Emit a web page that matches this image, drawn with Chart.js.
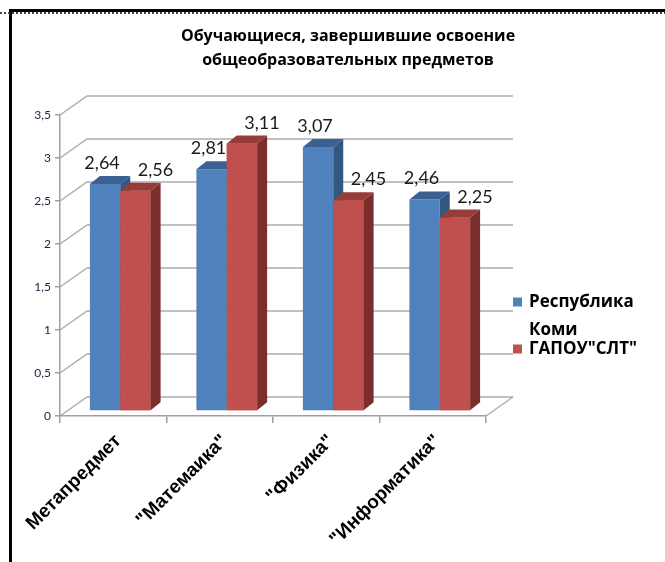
<!DOCTYPE html>
<html>
<head>
<meta charset="utf-8">
<script src="https://cdn.jsdelivr.net/npm/chart.js@4.4.1/dist/chart.umd.min.js"></script>
<style>
    body { margin: 0; background: #fff; }
    canvas { display: block; }
</style>
</head>
<body>
<canvas id="chart" width="665" height="562"></canvas>
<script>
const titleLines = ['Обучающиеся, завершившие освоение', 'общеобразовательных предметов'];
const categories = ['Метапредмет', '"Матемаика"', '"Физика"', '"Информатика"'];
const seriesNames = [['Республика', 'Коми'], ['ГАПОУ"СЛТ"']];
const komiValues = [2.64, 2.81, 3.07, 2.46];
const sltValues = [2.56, 3.11, 2.45, 2.25];
const yTicks = [0, 0.5, 1, 1.5, 2, 2.5, 3, 3.5];

const frontColors = ['#4F81BD', '#C0504D'];
const topColors = ['#3B6194', '#973C39'];
const sideColors = ['#345782', '#7B2F2D'];

// 3d look: depth of the back wall and of the bars
const wallDx = 27, wallDy = 19;
const barDx = 10, barDy = 8;
const shiftX = 7, shiftY = -5;
const labelShift = [-3, 20];

function fmt(v) {
    return String(v).replace('.', ',');
}

const depthPlugin = {
    id: 'depth',
    beforeDraw(chart) {
        const ctx = chart.ctx;
        const area = chart.chartArea;
        const y = chart.scales.y;
        ctx.save();
        ctx.fillStyle = '#fff';
        ctx.fillRect(0, 0, chart.width, chart.height);

        // frame
        ctx.strokeStyle = '#000';
        ctx.lineWidth = 3;
        ctx.beginPath();
        ctx.moveTo(10.5, chart.height);
        ctx.lineTo(10.5, 10.5);
        ctx.lineTo(chart.width, 10.5);
        ctx.stroke();
        ctx.strokeStyle = '#444';
        ctx.lineWidth = 2;
        ctx.setLineDash([2, 2]);
        ctx.beginPath();
        ctx.moveTo(0, 13);
        ctx.lineTo(chart.width, 13);
        ctx.stroke();
        ctx.setLineDash([]);

        // title
        ctx.fillStyle = '#000';
        ctx.font = 'bold 16px "Open Sans"';
        ctx.textAlign = 'center';
        ctx.textBaseline = 'middle';
        ctx.fillText(titleLines[0], 348, 36);
        ctx.fillText(titleLines[1], 348, 60);

        // back wall grid lines
        ctx.strokeStyle = '#ADADAD';
        ctx.lineWidth = 1.5;
        yTicks.forEach(v => {
            const py = y.getPixelForValue(v);
            ctx.beginPath();
            ctx.moveTo(area.left, py);
            ctx.lineTo(area.left + wallDx, py - wallDy);
            ctx.lineTo(area.right + wallDx, py - wallDy);
            ctx.stroke();
        });
        // floor
        const py0 = y.getPixelForValue(0);
        ctx.beginPath();
        ctx.moveTo(area.right, py0);
        ctx.lineTo(area.right + wallDx, py0 - wallDy);
        ctx.stroke();
        ctx.restore();
    },
    beforeDatasetsDraw(chart) {
        chart.ctx.save();
        chart.ctx.translate(shiftX, shiftY);
    },
    afterDatasetsDraw(chart) {
        const ctx = chart.ctx;
        const metas = [chart.getDatasetMeta(0), chart.getDatasetMeta(1)];
        categories.forEach((c, i) => {
            metas.forEach((meta, d) => {
                const el = meta.data[i];
                if (d > 0) el.draw(ctx);
                const p = el.getProps(['x', 'y', 'base', 'width'], true);
                const l = p.x - p.width / 2, r = p.x + p.width / 2;
                ctx.fillStyle = topColors[d];
                ctx.beginPath();
                ctx.moveTo(l, p.y);
                ctx.lineTo(l + barDx, p.y - barDy);
                ctx.lineTo(r + barDx, p.y - barDy);
                ctx.lineTo(r, p.y);
                ctx.closePath();
                ctx.fill();
                ctx.fillStyle = sideColors[d];
                ctx.beginPath();
                ctx.moveTo(r, p.y);
                ctx.lineTo(r + barDx, p.y - barDy);
                ctx.lineTo(r + barDx, p.base - barDy);
                ctx.lineTo(r, p.base);
                ctx.closePath();
                ctx.fill();
            });
        });

        // value labels
        ctx.fillStyle = '#1A1A1A';
        ctx.font = '18px Lato';
        ctx.textAlign = 'center';
        ctx.textBaseline = 'alphabetic';
        metas.forEach((meta, d) => {
            const values = d === 0 ? komiValues : sltValues;
            meta.data.forEach((el, i) => {
                const p = el.getProps(['x', 'y'], true);
                ctx.fillText(values[i].toFixed(2).replace('.', ','), p.x + labelShift[d], p.y - 15);
            });
        });
        ctx.restore();
    },
    afterDraw(chart) {
        const ctx = chart.ctx;
        ctx.save();
        ctx.font = 'bold 17px "Open Sans"';
        ctx.textAlign = 'left';
        ctx.textBaseline = 'middle';
        let ly = 302;
        seriesNames.forEach((name, d) => {
            ctx.fillStyle = frontColors[d];
            ctx.fillRect(513, ly - 4.5, 9, 9);
            ctx.fillStyle = '#000';
            name.forEach((line, k) => {
                ctx.fillText(line, 529, ly + k * 28);
            });
            ly += name.length === 2 ? 47 : 26;
        });
        ctx.restore();
    }
};

new Chart(document.getElementById('chart'), {
    type: 'bar',
    data: {
        labels: categories,
        datasets: [
            { label: seriesNames[0].join(' '), data: komiValues, backgroundColor: frontColors[0], borderWidth: 0, clip: false },
            { label: seriesNames[1].join(' '), data: sltValues, backgroundColor: frontColors[1], borderWidth: 0, clip: false }
        ]
    },
    options: {
        responsive: false,
        animation: false,
        events: [],
        layout: { padding: { left: 0, top: 115, right: 179, bottom: 0 } },
        datasets: { bar: { categoryPercentage: 0.57, barPercentage: 1.0 } },
        plugins: {
            legend: { display: false },
            title: { display: false },
            tooltip: { enabled: false }
        },
        scales: {
            x: {
                afterFit: scale => { scale.height = 146; },
                grid: { drawOnChartArea: false, drawTicks: true, tickLength: 7, color: '#A0A0A0', lineWidth: 1.5 },
                border: { color: '#A0A0A0', width: 1.5 },
                ticks: {
                    color: '#000',
                    font: { family: '"Liberation Sans"', size: 19, weight: 'bold' },
                    minRotation: 45,
                    maxRotation: 45,
                    labelOffset: 5,
                    padding: 7
                }
            },
            y: {
                min: 0,
                max: 3.5,
                afterFit: scale => { scale.width = 60; },
                grid: { drawOnChartArea: false, drawTicks: true, tickLength: 5, color: '#A0A0A0', lineWidth: 1.5 },
                border: { color: '#A0A0A0', width: 1.5 },
                ticks: {
                    stepSize: 0.5,
                    color: '#1F1F3A',
                    font: { family: 'Lato', size: 12 },
                    padding: 4,
                    callback: v => fmt(v)
                }
            }
        }
    },
    plugins: [depthPlugin]
});
</script>
</body>
</html>
